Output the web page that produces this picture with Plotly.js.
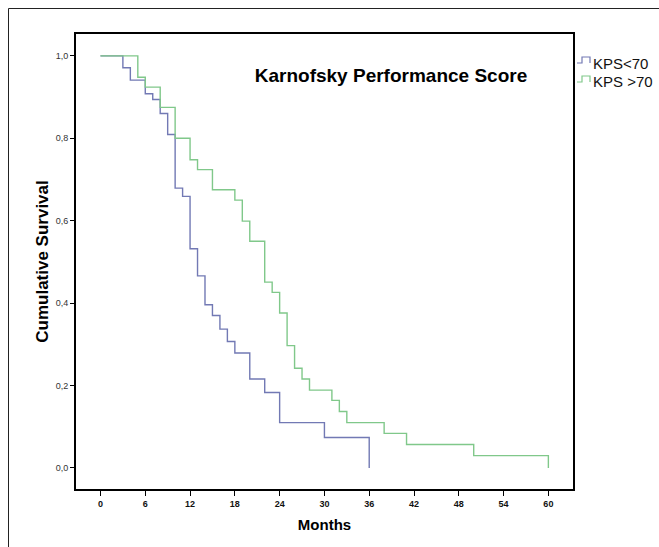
<!DOCTYPE html>
<html>
<head>
<meta charset="utf-8">
<script src="https://cdn.plot.ly/plotly-3.0.1.min.js"></script>
<style>html,body{margin:0;padding:0;background:#fff;}#chart{width:659px;height:547px;}</style>
</head>
<body>
<div id="chart"></div>
<script>
// Kaplan-Meier step data (months, cumulative survival)
var kpsLowMonths = [0, 3, 4, 6, 7, 8, 9, 10, 11, 12, 13, 14, 15, 16, 17, 18, 20, 22, 24, 30, 36];
var kpsLowSurv   = [1.0, 0.971, 0.941, 0.908, 0.894, 0.860, 0.809, 0.679, 0.659, 0.532, 0.466, 0.396, 0.370, 0.337, 0.307, 0.279, 0.216, 0.183, 0.110, 0.074, 0.0];

var kpsHighMonths = [0, 5, 6, 8, 10, 12, 13, 15, 18, 19, 20, 22, 23, 24, 25, 26, 27, 28, 31, 32, 33, 38, 41, 50, 60];
var kpsHighSurv   = [1.0, 0.948, 0.924, 0.875, 0.800, 0.748, 0.724, 0.675, 0.650, 0.599, 0.550, 0.451, 0.426, 0.376, 0.297, 0.242, 0.216, 0.189, 0.164, 0.137, 0.110, 0.084, 0.057, 0.030, 0.0];

var seriesNames = ['KPS<70', 'KPS >70'];
var xTicks = [0, 6, 12, 18, 24, 30, 36, 42, 48, 54, 60];
var yTicks = [0, 0.2, 0.4, 0.6, 0.8, 1.0];

var blue = '#7279b4';
var green = '#80c88a';

// pixel -> paper helpers (plot area 76..573 x 34..489)
var L = 76, R = 573, T = 34, B = 489;
function px(x){ return (x - L) / (R - L); }
function py(y){ return (B - y) / (B - T); }

var traces = [
  {x: kpsLowMonths, y: kpsLowSurv, type: 'scatter', mode: 'lines', line: {shape: 'hv', color: blue, width: 1.4}, name: seriesNames[0], showlegend: false, hoverinfo: 'skip'},
  {x: kpsHighMonths, y: kpsHighSurv, type: 'scatter', mode: 'lines', line: {shape: 'hv', color: green, width: 1.4}, name: seriesNames[1], showlegend: false, hoverinfo: 'skip'}
];

function symbolPath(yBase){
  return 'M ' + px(577) + ' ' + py(yBase) + ' L ' + px(582) + ' ' + py(yBase) +
         ' L ' + px(582) + ' ' + py(yBase - 6) + ' L ' + px(590) + ' ' + py(yBase - 6) +
         ' L ' + px(590) + ' ' + py(yBase);
}

var layout = {
  width: 659, height: 547,
  margin: {l: L, r: 659 - R, t: T, b: 547 - B, pad: 0},
  paper_bgcolor: '#ffffff', plot_bgcolor: '#ffffff',
  separators: ',.',
  showlegend: false,
  title: {
    text: '<b>Karnofsky Performance Score</b>',
    font: {family: 'Liberation Sans, Arial, sans-serif', size: 19, color: '#000'},
    xref: 'paper', yref: 'paper', x: px(391), y: py(75), xanchor: 'center', yanchor: 'middle'
  },
  xaxis: {
    range: [-3.28, 63.3], tickvals: xTicks, ticktext: xTicks.map(String),
    showline: true, mirror: true, linecolor: '#000', linewidth: 2,
    ticks: 'outside', ticklen: 5, tickwidth: 1, tickcolor: '#000',
    showgrid: false, zeroline: false, fixedrange: true,
    tickfont: {family: 'Liberation Sans Narrow, Liberation Sans, Arial, sans-serif', size: 9, color: '#111', weight: 'bold'},
    title: {text: '<b>Months</b>', font: {family: 'Liberation Sans, Arial, sans-serif', size: 15, color: '#000'}, standoff: 12}
  },
  yaxis: {
    range: [-0.051, 1.053], tickvals: yTicks, tickformat: '.1f',
    showline: true, mirror: true, linecolor: '#000', linewidth: 2,
    ticks: 'outside', ticklen: 4, tickwidth: 1, tickcolor: '#000',
    showgrid: false, zeroline: false, fixedrange: true,
    tickfont: {family: 'Liberation Sans, Arial, sans-serif', size: 9, color: '#333'},
    title: {text: '<b>Cumulative Survival</b>', font: {family: 'Liberation Sans, Arial, sans-serif', size: 17, color: '#000'}, standoff: 3}
  },
  shapes: [
    {type: 'line', xref: 'paper', yref: 'paper', x0: px(8.5), x1: px(8.5), y0: py(8.5), y1: py(547), line: {color: '#222', width: 1}},
    {type: 'line', xref: 'paper', yref: 'paper', x0: px(8.5), x1: px(659), y0: py(8.5), y1: py(8.5), line: {color: '#222', width: 1}},
    {type: 'path', xref: 'paper', yref: 'paper', path: symbolPath(63), line: {color: blue, width: 1.2}},
    {type: 'path', xref: 'paper', yref: 'paper', path: symbolPath(82), line: {color: green, width: 1.2}}
  ],
  annotations: [
    {xref: 'paper', yref: 'paper', x: px(591), y: py(63), xanchor: 'left', yanchor: 'middle', showarrow: false, text: seriesNames[0], font: {family: 'Liberation Sans, Arial, sans-serif', size: 15, color: '#111'}},
    {xref: 'paper', yref: 'paper', x: px(591), y: py(82), xanchor: 'left', yanchor: 'middle', showarrow: false, text: seriesNames[1], font: {family: 'Liberation Sans, Arial, sans-serif', size: 15, color: '#111'}}
  ]
};

Plotly.newPlot('chart', traces, layout, {displayModeBar: false, staticPlot: true});
</script>
</body>
</html>
